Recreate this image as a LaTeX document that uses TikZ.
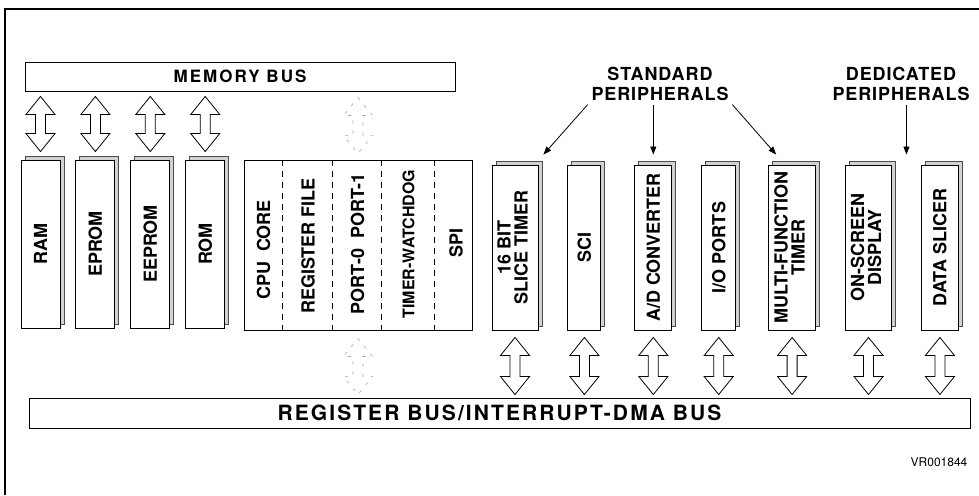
\documentclass[tikz,border=0pt]{standalone}
\usepackage{fontspec}
\setmainfont{TeX Gyre Heros}
\newfontfamily\busfont[LetterSpace=12]{TeX Gyre Heros}
\newfontfamily\lblfont[LetterSpace=5]{TeX Gyre Heros}
\newfontfamily\rbusfont[LetterSpace=10]{TeX Gyre Heros}
\usetikzlibrary{arrows.meta,positioning,calc,shadows}

\begin{document}
\begin{tikzpicture}[x=1pt, y=-1pt, line width=0.9pt,
  every node/.style={font=\bfseries\fontsize{18}{20}\selectfont},
  bus/.style={draw, fill=white, inner sep=0pt, minimum height=29pt,
    font=\busfont\bfseries\fontsize{17}{20}\selectfont},
  chip/.style={draw, fill=white, inner sep=0pt,
    copy shadow={shadow xshift=4pt, shadow yshift=4pt, fill=gray!35, draw=black!70}},
  sep/.style={dash pattern=on 6pt off 5pt, line width=0.8pt},
  busarr/.style={fill=white, line join=miter, line width=0.8pt,
    to path={let \p1=(\tikztostart), \p2=(\tikztotarget) in
      (\x1,\y1) -- ({\x1+14.5pt},{\y1-18pt}) -- ({\x1+5pt},{\y1-18pt})
      -- ({\x1+5pt},{\y2+18pt}) -- ({\x1+14.5pt},{\y2+18pt}) -- (\x1,\y2)
      -- ({\x1-14.5pt},{\y2+18pt}) -- ({\x1-5pt},{\y2+18pt})
      -- ({\x1-5pt},{\y1-18pt}) -- ({\x1-14.5pt},{\y1-18pt}) -- cycle}},
  ghost/.style={draw=black!35, dash pattern=on 3pt off 7pt, line width=0.6pt},
  ptr/.style={-{Triangle[length=8pt,width=6pt]}, line width=0.8pt},
  lbl/.style={align=center, font=\lblfont\bfseries\fontsize{18}{20}\selectfont}]
\useasboundingbox (0,0) rectangle (979,495);
\draw[line width=1.3pt] (5,495) -- (5,9) -- (979,9);

% buses
\node[bus, minimum width=430pt] (mbus) at (240,76.5) {MEMORY BUS};
\node[bus, minimum width=941pt, minimum height=30pt,
  font=\rbusfont\bfseries\fontsize{21}{23}\selectfont] (rbus) at (499.5,413)
  {REGISTER BUS/INTERRUPT-DMA BUS};

% memories
\node[chip, minimum width=39pt, minimum height=168pt] (ram) at (40.5,244) {\rotatebox{90}{RAM}};
\node[chip, minimum width=39pt, minimum height=168pt, right=15pt of ram] (eprom) {\rotatebox{90}{EPROM}};
\node[chip, minimum width=39pt, minimum height=168pt, right=15pt of eprom] (eeprom) {\rotatebox{90}{EEPROM}};
\node[chip, minimum width=39pt, minimum height=168pt, right=15pt of eeprom] (rom) {\rotatebox{90}{ROM}};

% cpu block
\node[draw, fill=white, inner sep=0pt, minimum width=228pt, minimum height=170pt] (cpu) at (358,245) {};
\foreach \dx in {39,89,138,191}
  \draw[sep] ([xshift=\dx pt]cpu.north west) -- ([xshift=\dx pt]cpu.south west);
\node (core) at (263.5,250) {\rotatebox{90}{CPU\ \ CORE}};
\node (regfile) at (308,246) {\rotatebox{90}{REGISTER FILE}};
\node (ports) at (357.5,244) {\rotatebox{90}{PORT-0\ \ PORT-1}};
\node[font=\bfseries\fontsize{16}{18}\selectfont] (wdog) at (408.5,244) {\rotatebox{90}{TIMER-WATCHDOG}};
\node (spi) at (456,243) {\rotatebox{90}{SPI}};

% peripherals
\node[chip, minimum width=46pt, minimum height=165pt] (slice) at (515,247.5)
  {\rotatebox{90}{\begin{tabular}{@{}c@{}}16 BIT\\[-3pt]SLICE TIMER\end{tabular}}};
\node[chip, minimum width=33pt, minimum height=165pt, right=29pt of slice] (sci) {\rotatebox{90}{SCI}};
\node[chip, minimum width=37pt, minimum height=165pt, right=33pt of sci] (adc) {\rotatebox{90}{A/D CONVERTER}};
\node[chip, minimum width=34pt, minimum height=165pt, right=29pt of adc] (io) {\rotatebox{90}{I/O PORTS}};
\node[chip, minimum width=47pt, minimum height=165pt, right=32pt of io] (mft)
  {\rotatebox{90}{\begin{tabular}{@{}c@{}}MULTI-FUNCTION\\[-3pt]TIMER\end{tabular}}};
\node[chip, minimum width=46pt, minimum height=165pt, right=29pt of mft] (osd)
  {\rotatebox{90}{\begin{tabular}{@{}c@{}}ON-SCREEN\\[-3pt]DISPLAY\end{tabular}}};
\node[chip, minimum width=37pt, minimum height=165pt, right=29pt of osd] (dsl) {\rotatebox{90}{DATA SLICER}};

% bus arrows
\foreach \c in {ram,eprom,eeprom,rom}
  \draw[busarr] ([yshift=-5pt]mbus.south -| \c.north) to ([yshift=8pt]\c.north);
\foreach \c in {slice,sci,adc,io,mft,osd,dsl}
  \draw[busarr] ([yshift=-7pt]\c.south) to ([yshift=3pt]rbus.north -| \c.south);
\draw[busarr, ghost] ([yshift=-6pt]mbus.south -| cpu.north) to ([yshift=6pt]cpu.north);
\draw[busarr, ghost] ([yshift=-8pt]cpu.south) to ([yshift=3pt]rbus.north -| cpu.south);

% peripheral labels
\node[lbl] (std) at (660,84) {STANDARD\\PERIPHERALS};
\node[lbl] (ded) at (901,84) {DEDICATED\\PERIPHERALS};
\coordinate (dedtip) at ($(osd.north east)!0.5!(dsl.north west)+(0,-10)$);
\draw[ptr] (std.south west) -- ([xshift=5pt,yshift=10pt]slice.north east);
\draw[ptr] (std.south -| adc.north) -- ([yshift=10pt]adc.north);
\draw[ptr] (std.south east) -- ([xshift=8pt,yshift=10pt]mft.north west);
\draw[ptr] (ded.south -| dedtip) -- (dedtip);

\node[font=\fontsize{12}{14}\selectfont] (vr) at (939,462) {VR001844};
\end{tikzpicture}
\end{document}
